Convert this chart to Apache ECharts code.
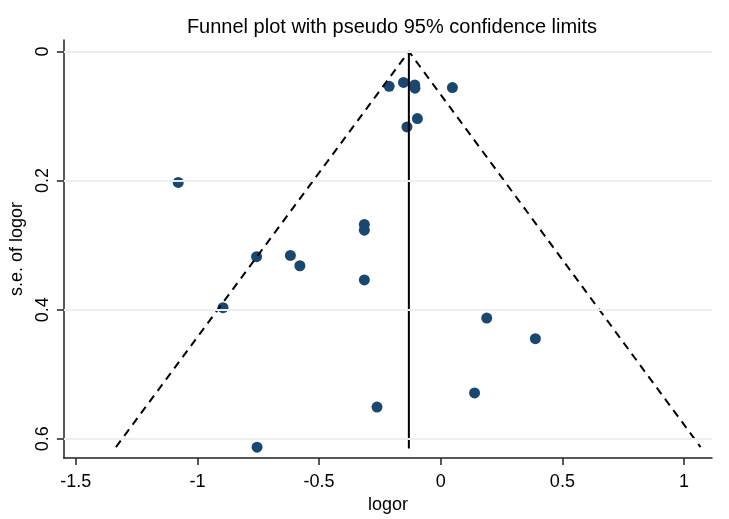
<!DOCTYPE html>
<html>
<head>
<meta charset="utf-8">
<script src="https://cdn.jsdelivr.net/npm/echarts@6/dist/echarts.min.js"></script>
<style>html,body{margin:0;padding:0;background:#fff}#c{width:729px;height:519px}</style>
</head>
<body>
<div id="c"></div>
<script>
// Study estimates: [logor, s.e. of logor]
var logor = [-0.212, -0.153, -0.107, -0.106, 0.048, -0.096, -0.139, -1.079, -0.314, -0.314, -0.757, -0.618, -0.579, -0.314, -0.895, -0.262, 0.189, 0.389, 0.139, -0.755];
var seLogor = [0.054, 0.048, 0.052, 0.057, 0.056, 0.104, 0.117, 0.203, 0.268, 0.277, 0.318, 0.316, 0.332, 0.354, 0.397, 0.551, 0.413, 0.445, 0.529, 0.613];
// Pseudo 95% confidence limits (left end, apex, right end)
var funnelX = [-1.335, -0.131, 1.068];
var funnelSe = [0.613, 0, 0.613];
// Pooled estimate line
var pooledX = [-0.131, -0.131];
var pooledSe = [0, 0.615];
// Ticks
var xTicks = [-1.5, -1, -0.5, 0, 0.5, 1];
var yTicks = [0, 0.2, 0.4, 0.6];

var pts = logor.map(function (v, i) { return [v, seLogor[i]]; });
var funnel = funnelX.map(function (v, i) { return [v, funnelSe[i]]; });
var pooled = pooledX.map(function (v, i) { return [v, pooledSe[i]]; });

var FONT = 'Liberation Sans, Arial, sans-serif';
var chart = echarts.init(document.getElementById('c'), null, { renderer: 'canvas' });
chart.setOption({
  backgroundColor: '#ffffff',
  animation: false,
  title: {
    text: 'Funnel plot with pseudo 95% confidence limits',
    left: 387, top: 12, textAlign: 'center',
    textStyle: { fontFamily: FONT, fontSize: 20, fontWeight: 'normal', color: '#000' }
  },
  grid: { left: 62, right: 17, top: 40, bottom: 59 },
  xAxis: {
    type: 'value', min: -1.549, max: 1.115,
    name: 'logor', nameLocation: 'middle', nameGap: 34,
    nameTextStyle: { fontFamily: FONT, fontSize: 18, color: '#000' },
    axisLine: { show: true, onZero: false, lineStyle: { color: '#222', width: 1.5 } },
    axisTick: { show: true, length: 7, customValues: xTicks, lineStyle: { color: '#222', width: 1.5 } },
    axisLabel: { customValues: xTicks, margin: 15, fontFamily: FONT, fontSize: 18, color: '#000',
      formatter: function (v) { return String(v); } },
    splitLine: { show: false }
  },
  yAxis: {
    type: 'value', inverse: true, min: -0.0177, max: 0.630,
    name: 's.e. of logor', nameLocation: 'middle', nameGap: 25, nameRotate: 90,
    nameTextStyle: { fontFamily: FONT, fontSize: 18, color: '#000' },
    axisLine: { show: true, onZero: false, lineStyle: { color: '#222', width: 1.5 } },
    axisTick: { show: true, length: 7, customValues: yTicks, lineStyle: { color: '#222', width: 1.5 } },
    axisLabel: { customValues: yTicks, rotate: 90, margin: 12, fontFamily: FONT, fontSize: 18, color: '#000',
      formatter: function (v) { return String(v); } },
    splitLine: { show: false }
  },
  series: [
    {
      type: 'line', data: [], silent: true,
      markLine: {
        silent: true, symbol: 'none', label: { show: false },
        lineStyle: { color: '#e8f0f2', width: 2, type: 'solid' },
        data: yTicks.map(function (t) { return { yAxis: t }; })
      }
    },
    {
      type: 'line', data: funnel, symbol: 'none', silent: true,
      lineStyle: { color: '#000', width: 2, type: [8, 6] }
    },
    {
      type: 'line', data: pooled, symbol: 'none', silent: true,
      lineStyle: { color: '#000', width: 2, type: 'solid' }
    },
    {
      type: 'scatter', data: pts, symbol: 'circle', symbolSize: 11,
      itemStyle: { color: '#1a476f', opacity: 1 }
    }
  ]
});
</script>
</body>
</html>
